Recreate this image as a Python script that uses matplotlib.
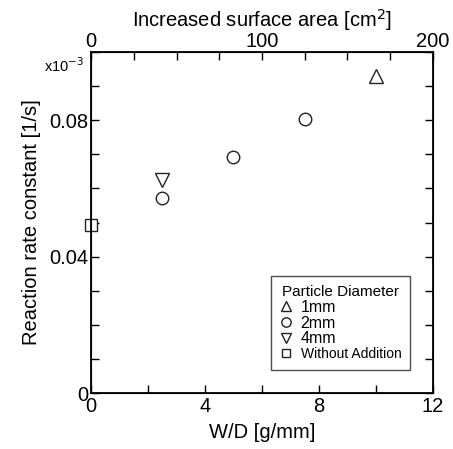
import numpy as np
import matplotlib
matplotlib.use("Agg")
import matplotlib.pyplot as plt
from matplotlib.ticker import MultipleLocator, FixedLocator

plt.rcParams['font.family'] = ['Liberation Sans', 'DejaVu Sans']

# data
wd1 = [10.0]
k1 = [0.0930]
wd2 = [2.5, 5.0, 7.5]
k2 = [0.0573, 0.0692, 0.0804]
wd4 = [2.5]
k4 = [0.0625]
wd0 = [0.0]
k0 = [0.0493]

fig = plt.figure(figsize=(4.53, 4.49), dpi=100)
ax = fig.add_axes([0.2009, 0.1247, 0.7549, 0.7595])

mk = dict(linestyle='none', markerfacecolor='white', markeredgecolor='#222222',
          markeredgewidth=1.0, clip_on=False)
ax.plot(wd1, k1, marker='^', markersize=10, label='1mm', **mk)
ax.plot(wd2, k2, marker='o', markersize=9, label='2mm', **mk)
ax.plot(wd4, k4, marker='v', markersize=10, label='4mm', **mk)
ax.plot(wd0, k0, marker='s', markersize=8.5, label='Without Addition', **mk)

ax.set_xlim(0, 12)
ax.set_ylim(0, 0.1)
ax.xaxis.set_major_locator(FixedLocator([0, 4, 8, 12]))
ax.xaxis.set_minor_locator(MultipleLocator(2))
ax.yaxis.set_major_locator(FixedLocator([0, 0.04, 0.08]))
ax.yaxis.set_minor_locator(MultipleLocator(0.01))
ax.set_yticklabels(['0', '0.04', '0.08'])
ax.tick_params(which='both', direction='in', right=True, labelsize=14.5, length=6, width=1)
ax.tick_params(axis='x', pad=3)
ax.tick_params(axis='y', pad=2)
for s in ax.spines.values():
    s.set_linewidth(1.3)

ax.set_xlabel('W/D [g/mm]', fontsize=14.5, labelpad=5)
ax.set_ylabel('Reaction rate constant [1/s]', fontsize=14.5, labelpad=6)

top = ax.twiny()
top.set_xlim(0, 200)
top.xaxis.set_major_locator(FixedLocator([0, 100, 200]))
top.xaxis.set_minor_locator(MultipleLocator(25))
top.tick_params(which='both', direction='in', labelsize=14.5, length=6, width=1, pad=0.5)
top.set_xlabel('Increased surface area [cm$^2$]', fontsize=14.5, labelpad=4)

fig.text(0.142, 0.853, r'x10$^{-3}$', fontsize=10.5, ha='center', va='center')

leg = ax.legend(loc='lower right', bbox_to_anchor=(0.933, 0.067), borderaxespad=0,
                title='Particle Diameter',
                fontsize=11.5, title_fontsize=11, frameon=True, fancybox=False,
                edgecolor='#222222', handlelength=0.8, handletextpad=0.5,
                borderpad=0.55, labelspacing=0.05, markerscale=0.75)
leg.get_frame().set_linewidth(1.0)
leg.get_texts()[3].set_fontsize(10)

fig.savefig('out.png', dpi=100)
